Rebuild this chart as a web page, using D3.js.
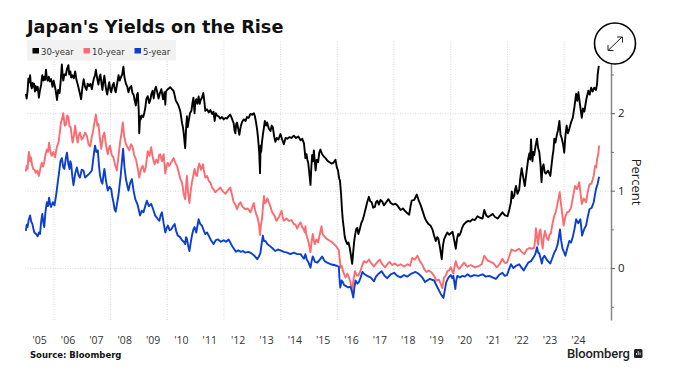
<!DOCTYPE html>
<html>
<head>
<meta charset="utf-8">
<script src="https://cdn.jsdelivr.net/npm/d3@7"></script>
<style>
  html, body { margin: 0; padding: 0; background: #fff; }
  svg { display: block; font-family: "DejaVu Sans", sans-serif; }
  .grid line { stroke: #d4d8d8; stroke-width: 1; stroke-dasharray: 1 1.5; }
  .grid path { display: none; }
  .line { fill: none; stroke-width: 1.9; stroke-linejoin: round; }
</style>
</head>
<body>
<svg id="chart" width="675" height="378"></svg>
<script>
// [decimal year, percent]
var thirtyYear = [
  [2005.03,2.25],[2005.06,2.19],[2005.09,2.28],[2005.12,2.45],[2005.15,2.40],[2005.18,2.49],[2005.21,2.36],[2005.24,2.32],[2005.27,2.39],[2005.29,2.34],[2005.32,2.38],[2005.35,2.28],[2005.38,2.35],[2005.41,2.30],[2005.45,2.34],[2005.49,2.20],[2005.53,2.30],[2005.57,2.365],[2005.59,2.44],[2005.61,2.49],[2005.65,2.42],[2005.68,2.47],[2005.71,2.43],[2005.74,2.56],[2005.77,2.46],[2005.80,2.42],[2005.84,2.47],[2005.88,2.41],[2005.92,2.44],[2005.97,2.34],
  [2006.01,2.42],[2006.04,2.37],[2006.08,2.30],[2006.13,2.17],[2006.17,2.30],[2006.22,2.26],[2006.26,2.42],[2006.30,2.63],[2006.33,2.48],[2006.35,2.42],[2006.39,2.50],[2006.44,2.49],[2006.48,2.57],[2006.53,2.62],[2006.56,2.50],[2006.60,2.54],[2006.63,2.46],[2006.67,2.49],[2006.72,2.45],[2006.77,2.54],[2006.81,2.44],[2006.86,2.37],[2006.92,2.28],[2006.98,2.18],
  [2007.02,2.32],[2007.07,2.44],[2007.12,2.34],[2007.17,2.30],[2007.21,2.38],[2007.26,2.35],[2007.31,2.38],[2007.36,2.31],[2007.40,2.40],[2007.43,2.45],[2007.47,2.49],[2007.50,2.56],[2007.55,2.44],[2007.59,2.37],[2007.63,2.47],[2007.66,2.50],[2007.70,2.38],[2007.73,2.30],[2007.77,2.42],[2007.80,2.485],[2007.85,2.33],[2007.90,2.24],[2007.94,2.34],[2007.97,2.40],
  [2008.01,2.30],[2008.04,2.27],[2008.09,2.36],[2008.13,2.39],[2008.17,2.30],[2008.20,2.27],[2008.25,2.38],[2008.30,2.49],[2008.34,2.42],[2008.39,2.47],[2008.43,2.50],[2008.47,2.60],[2008.51,2.46],[2008.56,2.38],[2008.61,2.34],[2008.65,2.27],[2008.70,2.33],[2008.75,2.35],[2008.79,2.26],[2008.83,2.24],[2008.87,2.16],[2008.91,2.10],[2008.95,2.24],[2008.98,2.26],
  [2009.01,2.05],[2009.03,1.74],[2009.06,1.96],[2009.08,1.92],[2009.12,1.97],[2009.17,1.95],[2009.21,2.01],[2009.24,2.06],[2009.28,2.18],[2009.33,2.22],[2009.38,2.13],[2009.42,2.17],[2009.46,2.25],[2009.50,2.29],[2009.54,2.19],[2009.58,2.30],[2009.62,2.34],[2009.67,2.26],[2009.71,2.19],[2009.76,2.26],[2009.81,2.31],[2009.87,2.18],[2009.92,2.27],[2009.95,2.11],[2009.97,2.28],
  [2010.04,2.31],[2010.12,2.335],[2010.18,2.31],[2010.24,2.29],[2010.28,2.23],[2010.32,2.16],[2010.39,2.12],[2010.44,2.07],[2010.48,2.02],[2010.54,1.87],[2010.57,1.82],[2010.60,1.74],[2010.63,1.62],[2010.65,1.55],[2010.68,1.78],[2010.71,1.96],[2010.74,1.82],[2010.77,1.89],[2010.82,2.00],[2010.87,2.03],[2010.91,2.14],[2010.94,2.20],[2010.98,2.0],
  [2011.01,2.15],[2011.04,2.18],[2011.08,2.12],[2011.125,2.215],[2011.16,2.12],[2011.195,2.17],[2011.24,2.20],[2011.29,2.26],[2011.33,2.14],[2011.36,2.03],[2011.42,2.05],[2011.48,2.01],[2011.54,2.04],[2011.60,1.99],[2011.65,2.02],[2011.69,1.90],[2011.73,2.00],[2011.77,1.97],[2011.83,1.96],[2011.89,1.93],[2011.95,1.95],
  [2012.01,1.92],[2012.07,1.94],[2012.13,1.93],[2012.18,1.96],[2012.24,1.98],[2012.30,1.93],[2012.36,1.87],[2012.39,1.78],[2012.42,1.74],[2012.45,1.86],[2012.48,1.88],[2012.52,1.80],[2012.56,1.72],[2012.61,1.83],[2012.66,1.89],[2012.72,1.92],[2012.78,1.90],[2012.83,1.95],[2012.89,1.94],[2012.95,1.99],
  [2013.01,1.98],[2013.07,2.0],[2013.11,1.96],[2013.15,1.88],[2013.19,1.78],[2013.22,1.68],[2013.26,1.50],[2013.29,1.225],[2013.31,1.58],[2013.33,1.50],[2013.36,1.63],[2013.39,1.72],[2013.43,1.82],[2013.46,1.90],[2013.50,1.84],[2013.54,1.88],[2013.60,1.80],[2013.66,1.77],[2013.70,1.84],[2013.74,1.82],[2013.79,1.70],[2013.83,1.63],[2013.88,1.68],[2013.94,1.66],
  [2014.01,1.73],[2014.07,1.66],[2014.13,1.60],[2014.19,1.68],[2014.25,1.67],[2014.32,1.69],[2014.40,1.68],[2014.48,1.71],[2014.56,1.68],[2014.64,1.70],[2014.72,1.65],[2014.78,1.67],[2014.84,1.61],[2014.87,1.50],[2014.89,1.42],
  [2014.93,1.47],[2014.96,1.40],[2014.99,1.36],[2015.03,1.22],[2015.07,1.075],[2015.10,1.30],[2015.13,1.46],[2015.16,1.38],[2015.19,1.52],[2015.22,1.38],[2015.25,1.26],[2015.29,1.40],[2015.34,1.37],[2015.38,1.49],[2015.42,1.53],[2015.48,1.47],[2015.54,1.44],[2015.60,1.42],[2015.66,1.39],[2015.73,1.37],[2015.81,1.35],[2015.88,1.36],[2015.95,1.40],
  [2016.0,1.30],[2016.04,1.26],[2016.08,1.16],[2016.11,1.13],[2016.15,.95],[2016.18,.76],[2016.21,.62],[2016.25,.50],[2016.28,.40],[2016.32,.35],[2016.37,.31],[2016.41,.33],[2016.45,.27],[2016.49,.18],[2016.54,.055],[2016.58,.22],[2016.61,.34],[2016.64,.42],[2016.68,.50],[2016.72,.52],[2016.76,.44],[2016.80,.49],[2016.86,.58],[2016.92,.63],[2016.97,.70],
  [2017.01,.76],[2017.07,.85],[2017.13,.92],[2017.18,.86],[2017.23,.85],[2017.28,.78],[2017.34,.79],[2017.38,.85],[2017.43,.87],[2017.48,.82],[2017.54,.88],[2017.60,.86],[2017.66,.81],[2017.74,.85],[2017.82,.89],[2017.90,.84],[2017.98,.82],
  [2018.06,.83],[2018.13,.81],[2018.19,.78],[2018.25,.75],[2018.33,.77],[2018.40,.74],[2018.48,.71],[2018.55,.69],[2018.60,.80],[2018.64,.87],[2018.73,.88],[2018.82,.95],[2018.89,.87],[2018.96,.81],
  [2019.04,.72],[2019.11,.64],[2019.17,.60],[2019.23,.57],[2019.30,.55],[2019.37,.50],[2019.43,.42],[2019.49,.35],[2019.54,.40],[2019.58,.38],[2019.64,.26],[2019.70,.115],[2019.74,.28],[2019.78,.37],[2019.84,.42],[2019.90,.46],[2019.96,.43],
  [2020.02,.45],[2020.08,.47],[2020.14,.36],[2020.195,.25],[2020.24,.38],[2020.28,.44],[2020.32,.42],[2020.37,.46],[2020.42,.52],[2020.47,.56],[2020.55,.59],[2020.63,.61],[2020.70,.60],[2020.78,.63],[2020.87,.62],[2020.96,.67],
  [2021.05,.65],[2021.14,.64],[2021.2,.75],[2021.27,.68],[2021.34,.66],[2021.42,.68],[2021.49,.70],[2021.58,.66],[2021.67,.64],[2021.76,.68],[2021.84,.72],[2021.93,.68],
  [2022.02,.67],[2022.08,.75],[2022.14,.85],[2022.17,.99],[2022.21,.90],[2022.26,.94],[2022.29,1.02],[2022.32,1.06],[2022.37,.96],[2022.43,1.01],[2022.47,1.16],[2022.52,1.29],[2022.56,1.20],[2022.60,1.12],[2022.63,1.06],[2022.69,1.24],[2022.75,1.41],[2022.79,1.48],[2022.82,1.40],[2022.85,1.66],[2022.87,1.50],[2022.90,1.38],[2022.93,1.50],[2022.96,1.46],
  [2023.01,1.58],[2023.06,1.67],[2023.10,1.55],[2023.14,1.50],[2023.18,1.35],[2023.22,1.11],[2023.25,1.30],[2023.29,1.34],[2023.33,1.24],[2023.37,1.22],[2023.45,1.26],[2023.53,1.19],[2023.57,1.32],[2023.61,1.45],[2023.64,1.52],[2023.67,1.67],[2023.71,1.62],[2023.76,1.72],[2023.80,1.78],[2023.85,1.90],[2023.89,1.72],[2023.93,1.68],[2023.98,1.60],
  [2024.02,1.49],[2024.06,1.70],[2024.105,1.84],[2024.15,1.74],[2024.2,1.80],[2024.26,1.88],[2024.32,1.94],[2024.38,2.08],[2024.44,2.25],[2024.48,2.16],[2024.52,2.27],[2024.58,2.10],[2024.64,1.94],[2024.68,2.06],[2024.73,2.02],[2024.80,2.18],[2024.87,2.29],[2024.92,2.24],[2024.97,2.33],
  [2025.02,2.28],[2025.08,2.33],[2025.14,2.30],[2025.18,2.38],[2025.2,2.50],[2025.24,2.61]
];

var tenYear = [
  [2005.03,1.25],[2005.06,1.32],[2005.09,1.28],[2005.12,1.44],[2005.14,1.50],[2005.18,1.38],[2005.21,1.43],[2005.25,1.33],[2005.29,1.28],[2005.33,1.27],[2005.38,1.23],[2005.43,1.26],[2005.49,1.19],[2005.54,1.28],[2005.59,1.36],[2005.64,1.31],[2005.68,1.37],[2005.72,1.46],[2005.77,1.53],[2005.81,1.50],[2005.85,1.62],[2005.90,1.50],[2005.94,1.45],
  [2006.0,1.50],[2006.06,1.43],[2006.12,1.56],[2006.18,1.62],[2006.23,1.76],[2006.27,1.88],[2006.31,1.93],[2006.35,2.0],[2006.40,1.84],[2006.44,1.85],[2006.49,1.97],[2006.53,1.95],[2006.57,1.83],[2006.61,1.82],[2006.65,1.70],[2006.68,1.62],[2006.73,1.72],[2006.77,1.84],[2006.82,1.70],[2006.86,1.62],[2006.90,1.72],[2006.94,1.75],[2007.0,1.66],
  [2007.06,1.69],[2007.12,1.75],[2007.18,1.71],[2007.24,1.60],[2007.30,1.57],[2007.36,1.70],[2007.41,1.79],[2007.46,1.90],[2007.50,1.98],[2007.55,1.84],[2007.59,1.86],[2007.64,1.68],[2007.69,1.54],[2007.75,1.70],[2007.80,1.75],[2007.86,1.58],[2007.92,1.47],[2007.96,1.55],
  [2008.0,1.58],[2008.06,1.46],[2008.12,1.43],[2008.18,1.33],[2008.24,1.26],[2008.29,1.42],[2008.36,1.64],[2008.41,1.76],[2008.45,1.88],[2008.50,1.70],[2008.56,1.60],[2008.62,1.56],[2008.68,1.52],[2008.74,1.60],[2008.79,1.57],[2008.85,1.46],[2008.91,1.41],[2008.97,1.30],
  [2009.03,1.17],[2009.09,1.28],[2009.15,1.32],[2009.21,1.24],[2009.26,1.30],[2009.30,1.42],[2009.33,1.51],[2009.39,1.45],[2009.45,1.56],[2009.51,1.42],[2009.57,1.34],[2009.63,1.40],[2009.69,1.36],[2009.73,1.46],[2009.77,1.47],[2009.83,1.38],[2009.89,1.47],[2009.95,1.22],
  [2010.0,1.33],[2010.04,1.36],[2010.08,1.32],[2010.12,1.34],[2010.18,1.38],[2010.24,1.42],[2010.30,1.36],[2010.36,1.32],[2010.42,1.24],[2010.48,1.15],[2010.52,1.12],[2010.56,1.06],[2010.60,.95],[2010.65,.89],[2010.68,1.05],[2010.71,1.19],[2010.75,.98],[2010.80,.84],[2010.84,.98],[2010.89,1.11],[2010.94,1.20],[2010.98,1.28],
  [2011.03,1.20],[2011.07,1.19],[2011.11,1.30],[2011.15,1.35],[2011.21,1.27],[2011.28,1.34],[2011.32,1.24],[2011.36,1.17],[2011.42,1.19],[2011.48,1.13],[2011.54,1.10],[2011.60,1.04],[2011.65,1.02],[2011.71,.98],[2011.80,1.01],[2011.89,1.04],[2011.98,.99],
  [2012.07,.96],[2012.15,1.00],[2012.24,1.04],[2012.30,.95],[2012.36,.85],[2012.42,.82],[2012.48,.76],[2012.54,.82],[2012.60,.85],[2012.68,.79],[2012.77,.76],[2012.86,.77],[2012.95,.72],
  [2013.01,.78],[2013.07,.84],[2013.11,.76],[2013.15,.70],[2013.20,.66],[2013.25,.57],[2013.29,.43],[2013.32,.55],[2013.36,.63],[2013.40,.82],[2013.43,.93],[2013.46,.84],[2013.50,.85],[2013.55,.90],[2013.60,.85],[2013.66,.79],[2013.72,.72],[2013.80,.68],[2013.87,.61],[2013.96,.66],
  [2014.05,.74],[2014.09,.66],[2014.13,.61],[2014.22,.64],[2014.31,.61],[2014.40,.62],[2014.48,.57],[2014.54,.56],[2014.60,.51],[2014.66,.56],[2014.72,.59],[2014.78,.53],[2014.84,.49],[2014.87,.46],[2014.89,.54],
  [2014.92,.44],[2014.95,.40],[2015.01,.32],[2015.07,.205],[2015.11,.34],[2015.15,.44],[2015.19,.36],[2015.22,.31],[2015.28,.37],[2015.34,.33],[2015.40,.44],[2015.46,.54],[2015.50,.44],[2015.54,.42],[2015.63,.38],[2015.72,.36],[2015.81,.34],[2015.90,.31],[2015.98,.28],
  [2016.07,.23],[2016.10,.12],[2016.13,.01],[2016.17,.03],[2016.21,-.03],[2016.26,-.08],[2016.31,-.12],[2016.37,-.07],[2016.43,-.12],[2016.49,-.20],[2016.54,-.29],[2016.59,-.14],[2016.64,-.04],[2016.70,-.09],[2016.76,-.10],[2016.84,-.03],[2016.90,.04],[2016.96,.09],
  [2017.04,.07],[2017.13,.11],[2017.22,.06],[2017.31,.02],[2017.41,.07],[2017.51,.11],[2017.60,.05],[2017.70,.01],[2017.78,.05],[2017.86,.08],[2017.95,.04],
  [2018.05,.06],[2018.15,.03],[2018.25,.05],[2018.37,.02],[2018.49,.05],[2018.58,.03],[2018.66,.13],[2018.75,.11],[2018.84,.16],[2018.93,.09],
  [2019.02,.04],[2019.09,-.02],[2019.16,-.05],[2019.25,-.03],[2019.35,-.06],[2019.43,-.10],[2019.51,-.16],[2019.60,-.15],[2019.66,-.20],[2019.72,-.26],[2019.78,-.12],[2019.84,-.10],[2019.90,-.04],[2019.96,-.03],
  [2020.02,0.01],[2020.06,-.03],[2020.11,-.07],[2020.15,.02],[2020.195,.09],[2020.25,.02],[2020.31,-.01],[2020.40,.03],[2020.49,.07],[2020.60,.02],[2020.72,.04],[2020.87,.01],
  [2021.02,.03],[2021.11,.05],[2021.2,.16],[2021.31,.10],[2021.43,.08],[2021.53,.06],[2021.64,.01],[2021.74,.05],[2021.84,.12],[2021.92,.07],
  [2022.0,.07],[2022.08,.15],[2022.16,.24],[2022.30,.22],[2022.43,.25],[2022.52,.21],[2022.61,.18],[2022.70,.24],[2022.79,.26],[2022.88,.25],[2022.96,.26],
  [2023.0,.38],[2023.02,.515],[2023.06,.42],[2023.10,.30],[2023.14,.46],[2023.18,.50],[2023.22,.36],[2023.26,.25],[2023.30,.40],[2023.34,.48],[2023.40,.39],[2023.46,.36],[2023.50,.43],[2023.55,.45],[2023.61,.58],[2023.67,.68],[2023.72,.72],[2023.76,.79],[2023.82,.90],[2023.86,.98],[2023.90,.85],[2023.93,.76],[2023.97,.64],
  [2024.0,.55],[2024.06,.66],[2024.12,.72],[2024.19,.73],[2024.26,.78],[2024.33,.92],[2024.40,1.06],[2024.47,1.02],[2024.55,1.11],[2024.60,.95],[2024.64,.83],[2024.71,.90],[2024.79,.85],[2024.85,.98],[2024.91,1.08],[2024.98,1.09],
  [2025.06,1.19],[2025.11,1.32],[2025.15,1.30],[2025.18,1.41],[2025.22,1.47],[2025.25,1.58]
];

var fiveYear = [
  [2005.03,.48],[2005.06,.56],[2005.09,.53],[2005.13,.62],[2005.18,.68],[2005.22,.60],[2005.26,.57],[2005.30,.50],[2005.33,.46],[2005.39,.44],[2005.45,.41],[2005.49,.46],[2005.53,.44],[2005.57,.60],[2005.61,.70],[2005.65,.58],[2005.68,.53],[2005.72,.72],[2005.77,.85],[2005.81,.80],[2005.85,.91],[2005.89,.82],[2005.92,.79],
  [2005.98,.85],[2006.04,.81],[2006.08,.90],[2006.12,1.00],[2006.16,1.12],[2006.20,1.23],[2006.25,1.38],[2006.30,1.42],[2006.35,1.30],[2006.39,1.28],[2006.44,1.42],[2006.48,1.49],[2006.53,1.34],[2006.57,1.28],[2006.60,1.38],[2006.63,1.34],[2006.67,1.18],[2006.71,1.07],[2006.77,1.22],[2006.83,1.30],[2006.89,1.20],[2006.94,1.17],[2007.0,1.27],
  [2007.06,1.26],[2007.12,1.17],[2007.18,1.19],[2007.27,1.22],[2007.36,1.26],[2007.41,1.42],[2007.47,1.58],[2007.52,1.50],[2007.57,1.52],[2007.61,1.32],[2007.65,1.19],[2007.69,1.12],[2007.73,1.09],[2007.77,1.21],[2007.80,1.28],[2007.86,1.12],[2007.92,1.00],[2007.98,1.05],
  [2008.04,1.02],[2008.08,.92],[2008.12,.85],[2008.16,.76],[2008.20,.73],[2008.25,.84],[2008.30,.95],[2008.34,1.08],[2008.37,1.17],[2008.42,1.38],[2008.46,1.54],[2008.51,1.30],[2008.56,1.15],[2008.60,1.08],[2008.65,1.00],[2008.71,1.10],[2008.77,1.15],[2008.83,1.00],[2008.89,.89],[2008.97,.82],
  [2009.06,.68],[2009.12,.74],[2009.18,.72],[2009.24,.80],[2009.30,.87],[2009.37,.80],[2009.45,.83],[2009.52,.76],[2009.59,.68],[2009.67,.64],[2009.74,.61],[2009.79,.69],[2009.83,.72],[2009.89,.58],[2009.95,.46],
  [2010.0,.52],[2010.04,.55],[2010.10,.49],[2010.16,.50],[2010.22,.54],[2010.28,.57],[2010.33,.48],[2010.39,.42],[2010.47,.40],[2010.54,.36],[2010.60,.34],[2010.65,.31],[2010.68,.40],[2010.71,.38],[2010.76,.28],[2010.80,.22],[2010.85,.34],[2010.89,.42],[2010.94,.50],[2010.98,.53],
  [2011.04,.46],[2011.08,.54],[2011.125,.63],[2011.18,.57],[2011.24,.55],[2011.30,.49],[2011.36,.44],[2011.42,.46],[2011.48,.42],[2011.56,.36],[2011.65,.31],[2011.73,.36],[2011.81,.37],[2011.91,.34],
  [2012.01,.36],[2012.09,.34],[2012.18,.37],[2012.24,.33],[2012.30,.29],[2012.37,.25],[2012.44,.21],[2012.52,.23],[2012.60,.21],[2012.68,.22],[2012.77,.20],[2012.88,.21],[2012.99,.19],
  [2013.09,.16],[2013.19,.115],[2013.25,.15],[2013.30,.19],[2013.35,.32],[2013.39,.42],[2013.43,.35],[2013.48,.35],[2013.55,.31],[2013.62,.29],[2013.72,.26],[2013.83,.22],[2013.92,.24],
  [2014.01,.23],[2014.13,.21],[2014.25,.20],[2014.36,.18],[2014.48,.20],[2014.60,.18],[2014.72,.18],[2014.78,.15],[2014.84,.12],[2014.89,.18],
  [2014.94,.11],[2014.99,.08],[2015.07,.005],[2015.11,.09],[2015.15,.15],[2015.23,.08],[2015.31,.07],[2015.40,.11],[2015.48,.15],[2015.57,.09],[2015.66,.07],[2015.78,.05],[2015.90,.04],[2015.99,.03],
  [2016.07,.02],[2016.09,-.12],[2016.12,-.25],[2016.17,-.16],[2016.21,-.18],[2016.26,-.22],[2016.31,-.23],[2016.40,-.25],[2016.48,-.24],[2016.53,-.30],[2016.58,-.38],[2016.62,-.25],[2016.66,-.16],[2016.72,-.20],[2016.78,-.18],[2016.84,-.12],[2016.90,-.05],[2016.98,-.08],
  [2017.07,-.10],[2017.19,-.12],[2017.31,-.17],[2017.38,-.11],[2017.45,-.08],[2017.58,-.04],[2017.68,-.10],[2017.78,-.13],[2017.90,-.08],
  [2018.02,-.06],[2018.13,-.10],[2018.25,-.12],[2018.37,-.09],[2018.49,-.11],[2018.63,-.07],[2018.78,-.05],[2018.87,-.07],[2018.96,-.10],
  [2019.03,-.13],[2019.11,-.18],[2019.27,-.14],[2019.43,-.16],[2019.55,-.25],[2019.66,-.33],[2019.76,-.385],[2019.81,-.28],[2019.86,-.18],[2019.94,-.12],
  [2020.02,-.09],[2020.07,-.13],[2020.11,-.10],[2020.15,-.20],[2020.18,-.27],[2020.21,-.16],[2020.25,-.10],[2020.34,-.12],[2020.43,-.10],[2020.52,-.11],[2020.61,-.08],[2020.72,-.11],[2020.84,-.09],[2020.99,-.10],
  [2021.14,-.08],[2021.25,-.11],[2021.37,-.10],[2021.49,-.12],[2021.61,-.14],[2021.72,-.09],[2021.84,-.06],[2021.92,-.10],
  [2022.0,-.09],[2022.07,-.02],[2022.14,.05],[2022.23,.00],[2022.32,.03],[2022.43,.05],[2022.51,.01],[2022.59,-.03],[2022.67,.02],[2022.75,.07],[2022.85,.09],[2022.94,.14],
  [2023.0,.18],[2023.06,.27],[2023.10,.20],[2023.14,.19],[2023.19,.12],[2023.23,.06],[2023.27,.13],[2023.32,.16],[2023.42,.10],[2023.53,.06],[2023.60,.13],[2023.67,.20],[2023.73,.24],[2023.79,.31],[2023.83,.40],[2023.87,.50],[2023.91,.36],[2023.96,.25],
  [2024.02,.20],[2024.06,.16],[2024.13,.26],[2024.2,.35],[2024.26,.33],[2024.32,.40],[2024.38,.50],[2024.44,.63],[2024.51,.58],[2024.59,.63],[2024.65,.42],[2024.72,.50],[2024.79,.55],[2024.85,.66],[2024.91,.76],[2024.99,.78],
  [2025.06,.85],[2025.10,.94],[2025.14,1.02],[2025.2,1.09],[2025.25,1.18]
];

var seriesNames = ['30-year', '10-year', '5-year'];
var seriesColors = ['#000000', '#fb6b70', '#0a3fcf'];
var yearLabels = ["'05", "'06", "'07", "'08", "'09", "'10", "'11", "'12", "'13", "'14", "'15", "'16", "'17", "'18", "'19", "'20", "'21", "'22", "'23", "'24"];
var gridYears = [2006, 2008, 2010, 2012, 2014, 2016, 2018, 2020, 2022, 2024];
var percentTicks = [0, 1, 2];
var minorTicks = [-0.5, 0.5, 1.5, 2.5];

var svg = d3.select('svg#chart');

// set the ranges
var x = d3.scaleLinear().domain([2005, 2025.67]).range([25, 611]);
var y = d3.scaleLinear().domain([-0.67, 2.95]).range([320, 39.6]);

// gridlines
svg.append('g')
  .attr('class', 'grid')
  .attr('transform', 'translate(0,320)')
  .call(d3.axisBottom(x).tickValues(gridYears).tickSize(-280).tickFormat(''));

svg.append('g')
  .attr('class', 'grid')
  .attr('transform', 'translate(611,0)')
  .call(d3.axisLeft(y).tickValues(percentTicks).tickSize(584).tickFormat(''));

// define the line
var valueline = d3.line()
  .x(function(d) { return x(d[0]); })
  .y(function(d) { return y(d[1]); });

[thirtyYear, tenYear, fiveYear].forEach(function(data, i) {
  svg.append('path')
    .datum(data)
    .attr('class', 'line')
    .attr('stroke', seriesColors[i])
    .attr('d', valueline);
});

// year labels sit in the middle of each year
var xAxis = svg.append('g')
  .attr('transform', 'translate(0,336.5)')
  .call(d3.axisBottom(x)
    .tickValues(d3.range(yearLabels.length).map(function(i) { return 2005.5 + i; }))
    .tickSize(0)
    .tickPadding(0)
    .tickFormat(function(d, i) { return yearLabels[i]; }));
xAxis.select('.domain').remove();
xAxis.selectAll('text')
  .attr('font-family', '"Open Sans", sans-serif')
  .attr('font-size', 10.5)
  .attr('fill', '#333');

// right axis
var yAxis = svg.append('g')
  .attr('transform', 'translate(611,0)')
  .call(d3.axisRight(y).tickValues(percentTicks).tickSize(4).tickSizeOuter(0).tickPadding(3).tickFormat(d3.format('d')));
yAxis.select('.domain').attr('stroke', '#888').attr('stroke-width', 1.5);
yAxis.selectAll('line').attr('stroke', '#666');
yAxis.selectAll('text')
  .attr('font-family', '"Open Sans", sans-serif')
  .attr('font-size', 11.5)
  .attr('fill', '#222');

svg.append('g')
  .attr('transform', 'translate(611,0)')
  .call(d3.axisRight(y).tickValues(minorTicks).tickSize(3).tickFormat(''))
  .call(function(g) { g.select('.domain').remove(); })
  .selectAll('line').attr('stroke', '#777');

svg.append('text')
  .attr('transform', 'translate(632,182) rotate(90)')
  .attr('text-anchor', 'middle')
  .attr('font-family', '"Open Sans", sans-serif')
  .attr('font-size', 13)
  .attr('fill', '#222')
  .text('Percent');

// title and source
svg.append('text')
  .attr('x', 27).attr('y', 33)
  .attr('font-size', 17.7)
  .attr('font-weight', 'bold')
  .attr('fill', '#111')
  .text("Japan's Yields on the Rise");

svg.append('text')
  .attr('x', 30).attr('y', 358)
  .attr('font-size', 8.5)
  .attr('font-weight', 'bold')
  .attr('fill', '#111')
  .text('Source: Bloomberg');

// legend
svg.append('rect')
  .attr('x', 27).attr('y', 40)
  .attr('width', 149).attr('height', 20.5)
  .attr('rx', 1)
  .attr('fill', '#f2f2f2');

var legendX = [32.5, 83.5, 134.5];
seriesNames.forEach(function(name, i) {
  svg.append('rect')
    .attr('x', legendX[i]).attr('y', 48)
    .attr('width', 6.5).attr('height', 5.5)
    .attr('fill', seriesColors[i]);
  svg.append('text')
    .attr('x', legendX[i] + 8.5).attr('y', 54.5)
    .attr('font-size', 8.5)
    .attr('fill', '#333')
    .text(name);
});

// expand button
svg.append('circle')
  .attr('cx', 615).attr('cy', 43.5).attr('r', 20.5)
  .attr('fill', '#fff')
  .attr('stroke', '#000')
  .attr('stroke-width', 1.6);
svg.append('path')
  .attr('d', 'M608 50.5L622 37M617 37H622.5V42.5M608 45V50.5H613.5')
  .attr('fill', 'none')
  .attr('stroke', '#222')
  .attr('stroke-width', 1);

// Bloomberg logo
svg.append('text')
  .attr('x', 567).attr('y', 358)
  .attr('font-family', 'Roboto, sans-serif')
  .attr('font-size', 13)
  .attr('font-weight', 500)
  .attr('letter-spacing', -0.1)
  .attr('fill', '#222')
  .text('Bloomberg');
svg.append('rect')
  .attr('x', 634).attr('y', 349)
  .attr('width', 8.5).attr('height', 9)
  .attr('rx', 1.5)
  .attr('fill', '#222');
svg.append('path')
  .attr('d', 'M636.5 355V353M638.3 355V351M640.1 355V352.5')
  .attr('stroke', '#fff')
  .attr('stroke-width', 0.8);
</script>
</body>
</html>
